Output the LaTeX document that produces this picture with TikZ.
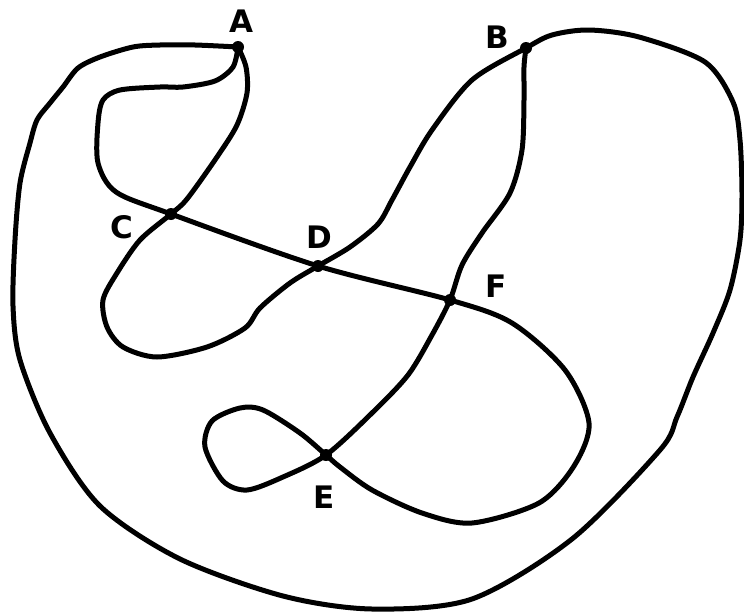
\documentclass[tikz,border=0pt]{standalone}
\usepackage{fontspec}
\setmainfont{DejaVu Sans}
\begin{document}
\begin{tikzpicture}[x=1pt,y=-1pt,
  curve/.style={line width=5pt,line cap=round,line join=round,draw=black},
  vtx/.style={circle,fill=black,inner sep=0pt,minimum size=12pt},
  lab/.style={font=\fontsize{31}{31}\selectfont\bfseries,inner sep=0pt}]
\useasboundingbox (0,0) rectangle (744,613);
\node[vtx] (A) at (238,47) {};
\node[vtx] (B) at (526,48) {};
\node[vtx] (C) at (171,214) {};
\node[vtx] (D) at (318,266) {};
\node[vtx] (F) at (450,300) {};
\node[vtx] (E) at (326,455) {};
\node[lab] (lA) at (241,21) {A};
\node[lab] (lB) at (497,37) {B};
\node[lab] (lC) at (122,227) {C};
\node[lab] (lD) at (319,237) {D};
\node[lab] (lF) at (496,286) {F};
\node[lab] (lE) at (324,497) {E};
% outer loop A -> B, then B -> D -> lower loop -> C -> A
\draw[curve] plot[smooth,tension=0.5] coordinates {
  (A.center) (195,45) (160,45) (133,47) (100,57) (78,68) (63,87) (50,103) (37,120)
  (30,143) (20,183) (15,240) (13,306)
  (20,360) (50,433) (100,506) (180,559) (283,596) (372,609) (472,599) (572,539)
  (660,450) (677,417) (693,377) (713,333) (730,290) (740,240) (742,195) (740,140)
  (733,102) (705,62) (639,37)
  (589,30) (552,35) (B.center) (472,80) (432,130) (410,167) (392,200) (378,224)
  (350,247) (D.center) (290,283) (260,308) (245,328) (207,347) (157,357) (123,347)
  (107,327) (103,300) (117,273) (140,240) (C.center) (187,199) (217,157) (237,125)
  (247,93) (246,67) (A.center)};
% A -> inner loop -> C -> D -> F -> right loop -> E -> small loop -> E -> F -> B
\draw[curve] plot[smooth,tension=0.5] coordinates {
  (A.center) (233,67) (215,81) (183,87) (160,87) (120,90) (103,100) (98,123) (98,163)
  (116,192) (C.center) (D.center) (F.center) (512,323) (565,370) (589,423) (574,466)
  (539,503) (472,523) (422,513) (372,490) (340,467) (E.center) (300,433) (263,410)
  (240,408) (212,421) (205,447) (223,481) (247,490) (283,477) (E.center) (372,413)
  (408,375) (432,335) (F.center) (462,265) (482,233) (510,193) (522,150) (524,100)
  (524,67) (B.center)};
\end{tikzpicture}
\end{document}
